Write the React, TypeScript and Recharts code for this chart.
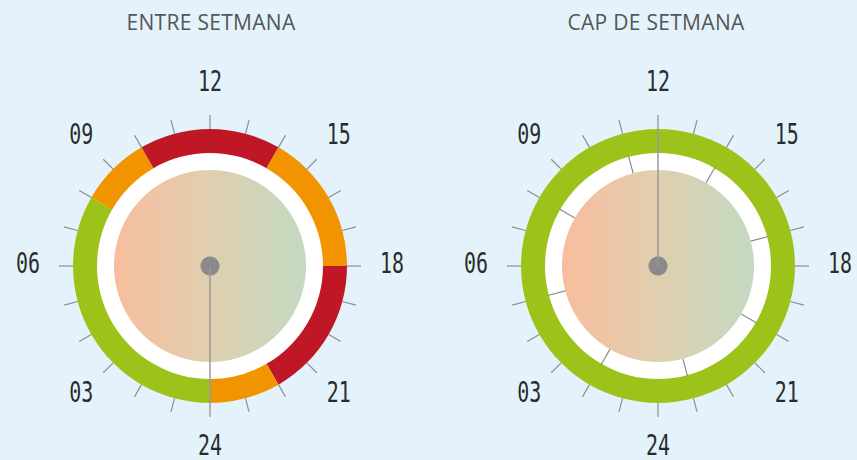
import React from "react";
import { PieChart, Pie, Cell } from "recharts";

// hours of the dial, 24 at the bottom, 12 at the top
const hourSlots = [
  { hour: 0 }, { hour: 1 }, { hour: 2 }, { hour: 3 }, { hour: 4 }, { hour: 5 },
  { hour: 6 }, { hour: 7 }, { hour: 8 }, { hour: 9 }, { hour: 10 }, { hour: 11 },
  { hour: 12 }, { hour: 13 }, { hour: 14 }, { hour: 15 }, { hour: 16 }, { hour: 17 },
  { hour: 18 }, { hour: 19 }, { hour: 20 }, { hour: 21 }, { hour: 22 }, { hour: 23 },
].map((s) => ({ ...s, v: 1 }));

const hourLabels: Record<number, string> = {
  0: "24", 3: "03", 6: "06", 9: "09", 12: "12", 15: "15", 18: "18", 21: "21",
};

// ring bands, in hours starting at 00
const weekdayHours = [8, 2, 4, 4, 4, 2];
const weekdayLevels = ["baix", "mig", "alt", "mig", "alt", "mig"];
const weekendHours = [24];
const weekendLevels = ["baix"];

const weekdayHand = 0;
const weekendHand = 12;
const weekdayDividers: number[] = [];
const weekendDividers = [2, 5, 8, 11, 14, 17, 20, 23];

const levelColors: Record<string, string> = {
  baix: "#9dc31b",
  mig: "#f29300",
  alt: "#c01727",
};

const RAD = Math.PI / 180;
const at = (cx: number, cy: number, angle: number, r: number) => [
  cx + r * Math.cos(-angle * RAD),
  cy + r * Math.sin(-angle * RAD),
];

// slot i is centred on hour i
const SLOT_START = -90 + 7.5;

function Dial({ cx, cy, hours, levels, hand, dividers }: any) {
  const bands = hours.map((h: number, i: number) => ({ v: h, level: levels[i] }));

  const renderTicks = (p: any) => {
    const hour = hourSlots[p.index].hour;
    const [x1, y1] = at(p.cx, p.cy, p.midAngle, 137);
    const [x2, y2] = at(p.cx, p.cy, p.midAngle, 151);
    const label = hourLabels[hour];
    const [tx, ty] = at(p.cx, p.cy, p.midAngle, 182);
    return (
      <g>
        <line x1={x1} y1={y1} x2={x2} y2={y2} stroke="#8c8c8c" strokeWidth={1.2} />
        {label && (
          <text
            x={tx}
            y={ty - 3}
            textAnchor="middle"
            dominantBaseline="central"
            fontFamily="DejaVu Sans Mono"
            fontSize={29}
            fill="#2b2b2b"
            textLength={24}
            lengthAdjust="spacingAndGlyphs"
          >
            {label}
          </text>
        )}
      </g>
    );
  };

  const renderHand = (p: any) => {
    const hour = hourSlots[p.index].hour;
    if (hour !== hand) return <g />;
    const [x2, y2] = at(p.cx, p.cy, p.midAngle, 137);
    return <line x1={p.cx} y1={p.cy} x2={x2} y2={y2} stroke="#9a9a9a" strokeWidth={1.5} />;
  };

  const renderDividers = (p: any) => {
    const hour = hourSlots[p.index].hour;
    if (!dividers.includes(hour)) return <g />;
    const [x1, y1] = at(p.cx, p.cy, p.midAngle, 96);
    const [x2, y2] = at(p.cx, p.cy, p.midAngle, 114);
    return <line x1={x1} y1={y1} x2={x2} y2={y2} stroke="#8c8c8c" strokeWidth={1.2} />;
  };

  return [
    <Pie key="disc" data={[{ v: 1 }]} dataKey="v" cx={cx} cy={cy} innerRadius={0} outerRadius={97}
      fill="url(#dialFill)" stroke="none" isAnimationActive={false} />,
    <Pie key="white" data={[{ v: 1 }]} dataKey="v" cx={cx} cy={cy} innerRadius={96} outerRadius={114}
      fill="#ffffff" stroke="none" isAnimationActive={false} />,
    <Pie key="div" data={hourSlots} dataKey="v" cx={cx} cy={cy} innerRadius={0} outerRadius={1}
      startAngle={SLOT_START} endAngle={SLOT_START - 360} fill="transparent" stroke="none"
      label={renderDividers} labelLine={false} isAnimationActive={false} />,
    <Pie key="hand" data={hourSlots} dataKey="v" cx={cx} cy={cy} innerRadius={0} outerRadius={1}
      startAngle={SLOT_START} endAngle={SLOT_START - 360} fill="transparent" stroke="none"
      label={renderHand} labelLine={false} isAnimationActive={false} />,
    <Pie key="ring" data={bands} dataKey="v" cx={cx} cy={cy} innerRadius={113} outerRadius={137}
      startAngle={-90} endAngle={-450} stroke="none" isAnimationActive={false}>
      {bands.map((b: any, i: number) => (
        <Cell key={i} fill={levelColors[b.level]} />
      ))}
    </Pie>,
    <Pie key="ticks" data={hourSlots} dataKey="v" cx={cx} cy={cy} innerRadius={0} outerRadius={1}
      startAngle={SLOT_START} endAngle={SLOT_START - 360} fill="transparent" stroke="none"
      label={renderTicks} labelLine={false} isAnimationActive={false} />,
    <Pie key="dot" data={[{ v: 1 }]} dataKey="v" cx={cx} cy={cy} innerRadius={0} outerRadius={9.5}
      fill="#8a8a8a" stroke="none" isAnimationActive={false} />,
  ];
}

const titleStyle: React.CSSProperties = {
  position: "absolute",
  top: 8,
  width: 300,
  textAlign: "center",
  fontFamily: "'Open Sans', sans-serif",
  fontSize: 21,
  color: "#555555",
  letterSpacing: 0.3,
  zIndex: 2,
};

export default function App() {
  return (
    <div style={{ position: "relative", width: 857, height: 460, background: "#e4f3fb", overflow: "hidden" }}>
      <style>{`body{margin:0}`}</style>
      <svg width="0" height="0" style={{ position: "absolute" }}>
        <defs>
          <linearGradient id="dialFill" x1="0" y1="0" x2="1" y2="0">
            <stop offset="0%" stopColor="#f8bd9d" />
            <stop offset="50%" stopColor="#e0cfb0" />
            <stop offset="100%" stopColor="#c2dac2" />
          </linearGradient>
        </defs>
      </svg>
      <div style={{ ...titleStyle, left: 61 }}>ENTRE SETMANA</div>
      <div style={{ ...titleStyle, left: 506 }}>CAP DE SETMANA</div>
      <PieChart width={857} height={460} margin={{ top: 0, right: 0, bottom: 0, left: 0 }}>
        {Dial({ cx: 210, cy: 266, hours: weekdayHours, levels: weekdayLevels, hand: weekdayHand, dividers: weekdayDividers })}
        {Dial({ cx: 658, cy: 266, hours: weekendHours, levels: weekendLevels, hand: weekendHand, dividers: weekendDividers })}
      </PieChart>
    </div>
  );
}
